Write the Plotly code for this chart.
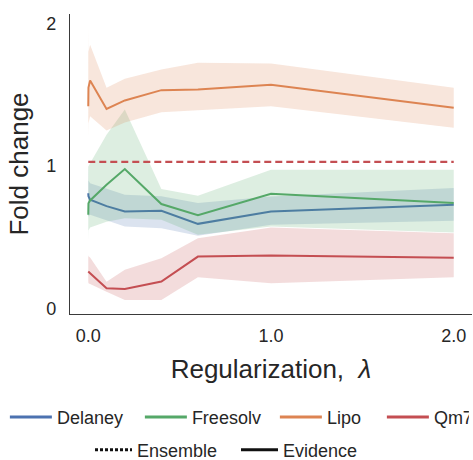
import plotly.graph_objects as go

lam = [0, 0.001, 0.01, 0.1, 0.2, 0.4, 0.6, 1.0, 2.0]

datasets = ["Delaney", "Freesolv", "Lipo", "Qm7"]

delaney_mean = [0.81, 0.79, 0.765, 0.72, 0.683, 0.688, 0.596, 0.683, 0.73]
delaney_lo = [0.64, 0.65, 0.66, 0.62, 0.578, 0.566, 0.512, 0.589, 0.617]
delaney_hi = [1.02, 0.90, 0.88, 0.84, 0.80, 0.79, 0.742, 0.788, 0.847]

freesolv_mean = [0.66, 0.74, 0.76, 0.87, 0.98, 0.735, 0.657, 0.807, 0.742]
freesolv_lo = [0.484, 0.55, 0.57, 0.61, 0.636, 0.625, 0.52, 0.578, 0.536]
freesolv_hi = [1.0, 1.0, 1.02, 1.22, 1.396, 0.84, 0.793, 0.975, 0.975]

lipo_mean = [1.42, 1.55, 1.60, 1.40, 1.46, 1.532, 1.537, 1.57, 1.408]
lipo_lo = [1.21, 1.30, 1.35, 1.25, 1.305, 1.378, 1.389, 1.42, 1.268]
lipo_hi = [1.97, 1.80, 1.85, 1.549, 1.612, 1.677, 1.724, 1.719, 1.549]

qm7_mean = [0.262, 0.26, 0.25, 0.145, 0.14, 0.192, 0.367, 0.374, 0.358]
qm7_lo = [0.19, 0.18, 0.18, 0.121, 0.063, 0.063, 0.222, 0.18, 0.222]
qm7_hi = [0.379, 0.37, 0.36, 0.19, 0.274, 0.356, 0.496, 0.571, 0.531]

ensemble_x = [0, 2.0]
ensemble_y = [1.03, 1.03]

method_names = ["Ensemble", "Evidence"]

colors = ["#4C72B0", "#55A868", "#DD8452", "#C44E52"]
fills = ["rgba(76,114,176,0.2)", "rgba(85,168,104,0.2)",
         "rgba(221,132,82,0.2)", "rgba(196,78,82,0.2)"]
legend_widths = [78, 78, 50, 30]

series = [
    (delaney_mean, delaney_lo, delaney_hi),
    (freesolv_mean, freesolv_lo, freesolv_hi),
    (lipo_mean, lipo_lo, lipo_hi),
    (qm7_mean, qm7_lo, qm7_hi),
]

FONT = "Liberation Sans, Arial, sans-serif"
TXT = "#262626"

fig = go.Figure()
for name, (m, lo, hi), c, f in zip(datasets, series, colors, fills):
    fig.add_trace(go.Scatter(
        x=lam + lam[::-1], y=hi + lo[::-1], fill="toself", fillcolor=f,
        line=dict(width=0), mode="lines", hoverinfo="skip", showlegend=False))
    fig.add_trace(go.Scatter(
        x=lam, y=m, mode="lines", name=name, showlegend=False,
        line=dict(color=c, width=2)))

fig.add_trace(go.Scatter(
    x=ensemble_x, y=ensemble_y, mode="lines", showlegend=False,
    line=dict(color="#C44E52", width=2.2, dash="7px,4px")))

# legend entries
for name, c, lw in zip(datasets, colors, legend_widths):
    fig.add_trace(go.Scatter(x=[None], y=[None], mode="lines", name=name,
                             line=dict(color=c, width=3), legend="legend",
                             legendwidth=lw))
fig.add_trace(go.Scatter(x=[None], y=[None], mode="lines", name=method_names[0],
                         line=dict(color="#111111", width=3, dash="3px,2px"),
                         legend="legend2", legendwidth=94))
fig.add_trace(go.Scatter(x=[None], y=[None], mode="lines", name=method_names[1],
                         line=dict(color="#111111", width=3),
                         legend="legend2", legendwidth=75))

fig.update_layout(
    width=473, height=460,
    margin=dict(l=70, r=1, t=14, b=146),
    plot_bgcolor="white", paper_bgcolor="white",
    font=dict(family=FONT, size=18, color=TXT),
    legend=dict(orientation="h", x=-0.162, xanchor="left",
                y=-0.344, yanchor="middle",
                font=dict(size=18, color=TXT),
                bgcolor="rgba(0,0,0,0)", itemwidth=42),
    legend2=dict(orientation="h", x=90 / 473, xref="container", xanchor="left",
                 y=1 - 450 / 460, yref="container", yanchor="middle",
                 font=dict(size=18, color=TXT),
                 bgcolor="rgba(0,0,0,0)", itemwidth=37),
)
fig.update_xaxes(
    range=[-0.1, 2.1], tickvals=[0, 1, 2], tickformat=".1f",
    showline=True, linecolor="#3a3a3a", linewidth=1.3, mirror=False,
    showgrid=False, zeroline=False, ticks="", ticklabelstandoff=5,
    automargin=False,
    tickfont=dict(size=18, color=TXT),
    title=dict(text="Regularization,  <i>λ</i>", font=dict(size=26, color=TXT),
               standoff=15),
)
fig.update_yaxes(
    range=[-0.035, 2.065], tickvals=[0, 1, 2],
    showline=True, linecolor="#3a3a3a", linewidth=1.3,
    showgrid=False, zeroline=False, ticks="", ticklabelstandoff=9,
    automargin=False,
    tickfont=dict(size=18, color=TXT),
    title=dict(text="Fold change", font=dict(size=26, color=TXT), standoff=10),
)

fig.write_html("out.html", config={"displayModeBar": False},
               post_script="document.body.style.margin='0';document.body.style.overflow='hidden';")
